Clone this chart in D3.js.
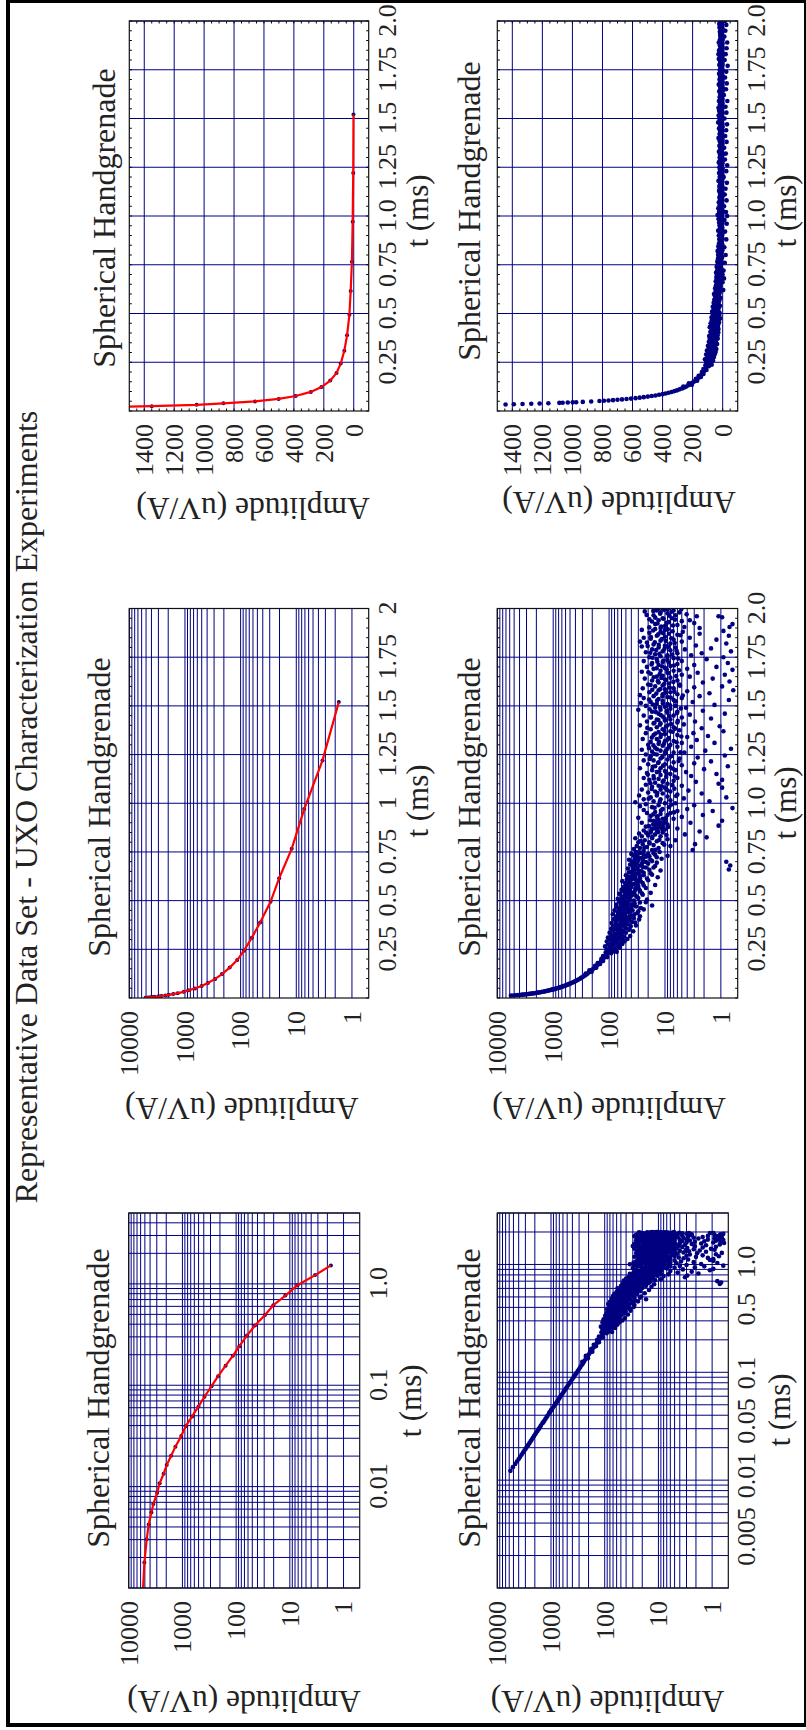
<!DOCTYPE html>
<html>
<head>
<meta charset="utf-8">
<script src="https://cdnjs.cloudflare.com/ajax/libs/d3/7.8.5/d3.min.js"></script>
<style>
  html, body { margin: 0; padding: 0; background: #fff; }
  svg { display: block; }
  text { font-family: "Liberation Serif", serif; fill: #222; }
</style>
</head>
<body>
<svg id="chart" width="806" height="1730"></svg>
<script>
const figureTitle = 'Representative Data Set - UXO Characterization Experiments';
const panelTitle = 'Spherical Handgrenade';
const xLabel = 't (ms)';
const yLabel = 'Amplitude (uV/A)';

const linearAmpTicks = [0, 200, 400, 600, 800, 1000, 1200, 1400];
const logAmpTicks = [1, 10, 100, 1000, 10000];
const linearTimeTicks = [0.25, 0.5, 0.75, 1, 1.25, 1.5, 1.75, 2];
const linearTimeLabels = ['0.25', '0.5', '0.75', '1.0', '1.25', '1.5', '1.75', '2.0'];
const semilogRedLabels = ['0.25', '0.5', '0.75', '1', '1.25', '1.5', '1.75', '2'];
const logTimeRedTicks = [0.01, 0.1, 1];
const logTimeRedLabels = ['0.01', '0.1', '1.0'];
// these labels sit where the original put them to keep them apart, not on their gridlines
const logTimeBlueTicks = [0.00297, 0.0109, 0.0349, 0.0977, 0.38, 1.04];
const logTimeBlueLabels = ['0.005', '0.01', '0.05', '0.1', '0.5', '1.0'];

// averaged decay
const redTimes = [0.00178, 0.00302, 0.00424, 0.00554, 0.00673, 0.00865, 0.0108, 0.0134, 0.0163, 0.0202, 0.0248, 0.0316, 0.0393, 0.0492, 0.0618, 0.077, 0.098, 0.123, 0.156, 0.195, 0.243, 0.309, 0.388, 0.494, 0.615, 0.766, 0.97, 1.22, 1.52];
const redAmps = [5110, 4620, 4240, 3780, 3480, 2960, 2650, 2240, 1960, 1620, 1350, 1050, 871, 660, 502, 388, 287, 216, 157, 115, 87, 62.9, 44.6, 29, 20.3, 12.1, 7.2, 3.38, 1.72];
const redLineStart = [0.001, 5400];

// raw single-shot decay before the noise sets in
const blueDecay = [[.0122,5700],[.0132,5130],[.0141,4650],[.0149,4300],[.0157,4000],[.0164,3770],[.0172,3530],[.018,3320],[.0188,3130],[.0196,2960],[.0204,2800],[.0212,2660],[.022,2530],[.0229,2400],[.0238,2280],[.0247,2170],[.0256,2070],[.0266,1970],[.0276,1880],[.0286,1790],[.0297,1700],[.0308,1625],[.032,1545],[.0337,1445],[.0345,1390],[.0356,1332],[.0369,1274],[.0382,1218],[.0396,1160],[.0417,1087],[.0424,1065],[.0433,1031],[.0444,998],[.0452,975],[.0467,931],[.0488,875],[.051,820],[.0525,790],[.0541,760],[.0557,730],[.0576,700],[.0595,670],[.0615,640],[.0637,610],[.066,580],[.0685,552],[.071,525],[.0738,498],[.0767,472],[.0798,447],[.0831,423],[.0865,400],[.09,380],[.0938,360],[.0977,340],[.102,321],[.106,304],[.111,287],[.116,270],[.121,255],[.126,242],[.132,228],[.138,215],[.144,203],[.15,192],[.157,180],[.164,170],[.171,160],[.179,150],[.187,141],[.195,133],[.204,125],[.213,117],[.222,111],[.232,104],[.125,262],[.135,205],[.142,225],[.155,170],[.165,178],[.175,145],[.18,160],[.19,128],[.2,138],[.21,108],[.215,128]];

// noisy tail, t from 0.22 up to 0.75
const blueEarlyNoise = [[.23,92],[.235,115],[.24,84],[.242,102],[.25,88],[.25,110],[.255,76],[.26,97],[.262,70],[.265,118],[.27,84],[.272,66],[.275,104],[.28,75],[.28,92],[.285,62],[.29,110],[.29,82],[.295,70],[.3,96],[.3,58],[.305,78],[.308,66],[.31,105],[.315,88],[.315,54],[.32,72],[.325,92],[.325,60],[.33,78],[.335,50],[.335,98],[.34,66],[.345,84],[.345,56],[.35,72],[.35,44],[.355,92],[.36,62],[.36,78],[.365,52],[.37,86],[.37,68],[.372,33],[.375,58],[.38,74],[.38,46],[.385,90],[.385,62],[.39,52],[.39,39],[.395,76],[.4,64],[.4,44],[.405,82],[.405,55],[.41,36],[.41,68],[.415,48],[.42,74],[.42,58],[.42,28],[.425,42],[.43,86],[.43,62],[.43,35],[.435,52],[.44,70],[.44,46],[.445,30],[.45,80],[.45,56],[.45,38],[.455,24],[.46,64],[.46,44],[.465,72],[.47,50],[.47,33],[.475,60],[.475,17],[.48,40],[.48,74],[.485,54],[.49,28],[.49,46],[.495,66],[.5,36],[.5,56],[.505,21],[.51,44],[.51,70],[.515,52],[.52,32],[.52,60],[.525,40],[.53,25],[.53,48],[.535,66],[.54,36],[.54,18],[.545,54],[.55,42],[.55,28],[.555,60],[.56,34],[.56,48],[.565,22],[.57,40],[.57,56],[.575,30],[.58,46],[.58,15],[.585,36],[.59,52],[.59,25],[.595,42],[.6,32],[.6,58],[.605,20],[.61,38],[.61,48],[.615,28],[.62,42],[.62,13.5],[.625,34],[.63,50],[.63,24],[.635,38],[.64,30],[.64,18],[.645,44],[.65,26],[.65,36],[.655,12],[.66,33],[.66,.72],[.665,46],[.67,22],[.67,16],[.675,38],[.68,28],[.68,.68],[.685,42],[.69,20],[.69,33],[.695,14],[.7,25],[.7,38],[.7,.8],[.705,30],[.71,18],[.71,44],[.715,11.5],[.72,26],[.72,35],[.725,22],[.73,9],[.73,31],[.735,15],[.74,40],[.74,20],[.745,27],[.75,12.5],[.75,33]];

// the thick part of the early cloud, read between the points above
const blueEarlyCore = [[.237,73],[.248,98],[.258,64],[.269,91],[.277,58],[.283,81],[.291,53],[.298,87],[.303,47],[.311,72],[.318,42],[.323,63],[.331,69],[.338,57],[.343,37],[.352,64],[.357,48],[.363,71],[.368,41],[.376,66],[.383,54],[.388,34],[.393,61],[.398,49],[.403,29],[.408,71],[.413,43],[.417,63],[.423,37],[.428,52],[.433,68],[.437,31],[.442,58],[.447,41],[.452,66],[.457,48],[.462,27],[.468,55],[.472,39],[.478,47],[.483,61],[.487,35],[.492,22],[.497,51],[.503,43],[.507,59],[.513,30],[.518,46],[.523,54],[.527,34],[.533,41],[.538,26],[.543,47],[.548,35],[.553,52],[.558,29],[.563,43],[.568,33],[.573,49],[.578,24],[.583,39],[.588,31],[.593,47],[.598,27],[.603,42],[.608,33],[.613,21],[.618,36],[.623,46],[.628,28],[.633,17],[.638,34],[.643,24],[.648,40],[.653,29],[.658,19],[.663,37],[.668,31],[.673,25],[.678,15],[.683,34],[.688,26],[.693,39],[.698,22],[.703,17],[.708,35],[.713,25],[.718,30],[.723,14],[.728,19],[.733,36],[.738,24],[.743,16],[.748,29]];

// noisy tail, t from 0.75 up to 2
const blueLateNoise = [[.755,24],[.76,17],[.76,3.2],[.765,36],[.77,13],[.77,28],[.775,21],[.78,8],[.78,32],[.785,16],[.79,2.9],[.79,25],[.795,11],[.8,19],[.8,30],[.805,14],[.81,6.5],[.81,23],[.815,9],[.82,34],[.82,17],[.825,1.8],[.83,26],[.83,12],[.835,20],[.84,15],[.84,4.4],[.845,29],[.85,11],[.85,18],[.855,2.4],[.86,24],[.86,14],[.865,10],[.87,17],[.87,6],[.875,13],[.88,22],[.88,11],[.885,1.1],[.89,15],[.89,9],[.895,13],[.9,26],[.9,12],[.9,3.5],[.905,10],[.91,16],[.91,.95],[.915,13],[.92,7],[.92,11],[.925,30],[.93,14],[.93,5],[.935,18],[.94,9],[.94,2.1],[.945,12],[.95,21],[.95,8],[.955,15],[.96,1.4],[.96,6],[.965,24],[.97,11],[.97,4],[.975,.62],[.98,17],[.98,8.5],[.985,28],[.99,13],[.99,3],[.995,22],[1,10],[1,6.5],[1.005,34],[1.01,16],[1.01,1.6],[1.015,8],[1.02,24],[1.02,12],[1.025,4.6],[1.03,18],[1.03,.8],[1.035,9],[1.04,29],[1.04,14],[1.045,6],[1.05,11],[1.05,2.2],[1.055,20],[1.06,8],[1.06,15],[1.065,3.8],[1.07,26],[1.07,12],[1.075,6.8],[1.08,10],[1.08,.95],[1.085,17],[1.09,5],[1.09,13],[1.095,22],[1.1,9],[1.1,1.1],[1.105,15],[1.11,11],[1.11,2.8],[1.115,7],[1.12,19],[1.12,.95],[1.125,13],[1.13,24],[1.13,6],[1.135,9.5],[1.14,3.4],[1.14,16],[1.145,12],[1.15,8],[1.15,1.2],[1.155,21],[1.16,14],[1.16,4.2],[1.165,10],[1.17,6.5],[1.17,17],[1.175,2],[1.18,28],[1.18,12],[1.185,8],[1.19,15],[1.19,.75],[1.195,5],[1.2,20],[1.2,10],[1.205,3],[1.21,13],[1.21,7],[1.215,1.5],[1.22,24],[1.22,16],[1.225,9],[1.23,5.5],[1.23,12],[1.235,2.6],[1.24,18],[1.24,8],[1.245,.85],[1.25,14],[1.25,22],[1.255,10],[1.26,4.5],[1.26,7],[1.265,17],[1.27,12],[1.27,1.9],[1.275,26],[1.28,9],[1.28,.66],[1.285,15],[1.29,6],[1.29,3.4],[1.295,11],[1.3,20],[1.3,8],[1.305,13],[1.31,5],[1.31,1.3],[1.315,18],[1.32,10],[1.32,7],[1.325,2.7],[1.33,25],[1.33,14],[1.335,8.5],[1.34,4],[1.34,12],[1.345,1.7],[1.35,16],[1.35,6],[1.355,10],[1.36,22],[1.36,3.1],[1.365,13],[1.37,8],[1.37,.9],[1.375,5.5],[1.38,18],[1.38,11],[1.385,2.2],[1.39,14],[1.39,7],[1.395,1.05],[1.4,28],[1.4,9],[1.405,4.6],[1.41,16],[1.41,12],[1.415,6],[1.42,21],[1.42,2.9],[1.425,10],[1.43,8],[1.43,14],[1.435,1.5],[1.44,5],[1.44,18],[1.445,11],[1.45,24],[1.45,7],[1.455,3.6],[1.46,13],[1.46,.85],[1.465,9],[1.47,17],[1.47,6],[1.475,2.1],[1.48,12],[1.48,30],[1.485,8],[1.49,15],[1.49,4.2],[1.495,10],[1.5,22],[1.5,6.5],[1.505,1.3],[1.51,14],[1.51,9],[1.515,27],[1.52,3.2],[1.52,18],[1.525,11],[1.53,7],[1.53,.72],[1.535,13],[1.54,5],[1.54,24],[1.545,9],[1.55,16],[1.55,2.4],[1.555,28],[1.56,11],[1.56,6],[1.565,1.6],[1.57,19],[1.57,8],[1.575,4],[1.58,13],[1.58,.6],[1.585,10],[1.59,25],[1.59,7],[1.595,3],[1.6,15],[1.6,.95],[1.605,11],[1.61,5.5],[1.61,20],[1.615,8.5],[1.62,2.1],[1.62,13],[1.625,.7],[1.63,17],[1.63,6],[1.635,10],[1.64,1.4],[1.64,23],[1.645,8],[1.65,14],[1.65,3.6],[1.655,11],[1.66,.85],[1.66,5],[1.665,18],[1.67,9],[1.67,2.6],[1.675,26],[1.68,12],[1.68,7],[1.685,.62],[1.69,16],[1.69,4],[1.695,10],[1.7,21],[1.7,1.2],[1.705,8],[1.71,13],[1.71,3],[1.715,6],[1.72,17],[1.72,.75],[1.725,11],[1.73,24],[1.73,5],[1.735,9],[1.74,1.8],[1.74,14],[1.745,7],[1.75,19],[1.75,.9],[1.755,12],[1.76,3.4],[1.76,9],[1.765,15],[1.77,2.2],[1.77,6],[1.775,22],[1.78,.66],[1.78,11],[1.785,8],[1.79,17],[1.79,4.4],[1.795,1.5],[1.8,13],[1.8,6.5],[1.805,26],[1.81,10],[1.81,2.8],[1.815,16],[1.82,.8],[1.82,8],[1.825,21],[1.83,28],[1.83,5],[1.835,12],[1.84,1.2],[1.84,7],[1.845,18],[1.85,24],[1.85,3.6],[1.855,10],[1.86,.72],[1.86,14],[1.865,6],[1.87,8.5],[1.87,2.4],[1.875,19],[1.88,12],[1.88,4.8],[1.885,.9],[1.89,26],[1.89,10],[1.895,15],[1.9,2.4],[1.9,12],[1.905,.7],[1.905,4.5],[1.91,10],[1.915,6],[1.92,.62],[1.92,15],[1.925,3],[1.93,8.5],[1.935,5],[1.94,3.6],[1.94,13],[1.945,19],[1.95,7.5],[1.95,11],[1.955,.95],[1.96,1.1],[1.96,2.7],[1.965,16],[1.965,6.5],[1.97,4.1],[1.975,9],[1.98,12],[1.98,5.5],[1.985,23],[1.99,14],[1.99,7],[1.995,9],[2,13],[2,11]];

// the dense middle of the late cloud
const blueLateCore = [[.761,14.7],[.772,23.4],[.787,10.3],[.793,18.9],[.806,27.2],[.812,12.6],[.828,16.8],[.837,9.4],[.848,21.7],[.853,13.2],[.862,17.6],[.868,11.3],[.873,15.1],[.878,8.8],[.883,19.4],[.887,12.9],[.892,16.3],[.897,10.7],[.907,14.2],[.913,18.4],[.923,9.7],[.933,13.6],[.943,16.2],[.953,6.9],[.963,11.8],[.977,15.3],[.993,7.7],[1.007,12.4],[1.023,19.6],[1.037,6.3],[1.052,13.7],[1.067,9.1],[1.073,17.3],[1.087,11.4],[1.093,7.4],[1.103,18.2],[1.117,10.6],[1.127,15.8],[1.137,6.7],[1.147,20.3],[1.153,9.3],[1.163,12.7],[1.177,7.2],[1.187,16.6],[1.193,10.8],[1.207,13.3],[1.217,5.7],[1.227,18.7],[1.237,11.2],[1.243,7.6],[1.253,15.7],[1.262,5.3],[1.267,9.8],[1.277,13.9],[1.283,19.3],[1.292,8.4],[1.297,16.1],[1.307,10.4],[1.313,6.2],[1.317,12.8],[1.328,8.9],[1.337,17.2],[1.343,5.1],[1.352,11.7],[1.358,14.8],[1.367,7.3],[1.372,10.2],[1.383,6.6],[1.387,20.7],[1.393,9.6],[1.403,12.3],[1.407,7.8],[1.413,15.4],[1.423,5.9],[1.427,13.1],[1.433,10.1],[1.442,17.8],[1.447,8.3],[1.453,11.9],[1.463,6.1],[1.468,14.6],[1.473,9.2],[1.483,18.8],[1.487,5.2],[1.493,12.2],[1.503,8.1],[1.507,16.4],[1.513,10.9],[1.523,6.4],[1.527,13.8],[1.533,19.2],[1.543,7.9],[1.548,11.1],[1.553,4.8],[1.563,14.3],[1.567,9.9],[1.573,6.8],[1.583,16.9],[1.587,12.1],[1.593,8.2],[1.603,5.4],[1.607,18.1],[1.613,10.3],[1.623,7.1],[1.627,13.4],[1.633,9.5],[1.643,11.6],[1.647,15.9],[1.653,6.3],[1.663,12.4],[1.668,8.7],[1.673,19.8],[1.683,5.6],[1.687,9.3],[1.693,14.1],[1.703,11.3],[1.707,6.9],[1.713,17.4],[1.723,8.6],[1.727,13.7],[1.733,10.7],[1.743,5.8],[1.747,16.7],[1.753,9.1],[1.763,7.4],[1.767,12.6],[1.773,18.3],[1.783,6.2],[1.787,14.4],[1.793,10.2],[1.803,8.8],[1.807,20.4],[1.813,12.9],[1.823,6.7],[1.827,15.2],[1.833,9.7],[1.843,11.4],[1.847,7.7],[1.853,17.9],[1.863,5.3],[1.867,13.2],[1.873,10.8],[1.883,7.3],[1.887,16.3],[1.893,8.9],[1.903,19.1],[1.907,11.7],[1.913,7.2],[1.923,13.6],[1.927,9.4],[1.933,17.1],[1.943,6.6],[1.947,10.6],[1.953,14.9],[1.963,8.3],[1.967,21.3],[1.973,12.2],[1.983,7.6],[1.987,16.2],[1.993,10.4],[1.997,5.1]];

// below zero only the linear panel can show these
const blueNegative = [[.62,-4],[.68,-9],[.72,-6],[.76,-14],[.8,-20],[.84,-11],[.88,-24],[.92,-16],[.96,-27],[.98,-12],[1,-30],[1.02,-22],[1.05,-9],[1.08,-26],[1.11,-14],[1.14,-19],[1.17,-28],[1.2,-7],[1.23,-24],[1.26,-30],[1.29,-15],[1.32,-21],[1.35,-10],[1.38,-26],[1.41,-17],[1.44,-23],[1.47,-29],[1.5,-12],[1.53,-25],[1.56,-19],[1.59,-31],[1.62,-8],[1.65,-22],[1.68,-27],[1.71,-16],[1.74,-24],[1.77,-33],[1.8,-13],[1.83,-20],[1.86,-26],[1.89,-30],[1.92,-11],[1.95,-18],[1.98,-24],[2,-15]];

const blueSamples = [...blueDecay, ...blueEarlyNoise, ...blueEarlyCore, ...blueLateNoise, ...blueLateCore, ...blueNegative];
const redSamples = redTimes.map((t, i) => [t, redAmps[i]]);
const redLine = [redLineStart, ...redSamples];

const navy = '#000080';
const red = '#ff0000';
const canvasHeight = 1730;

// plot boxes are given in logical, unrotated page coordinates
const panels = [
  { left: 1319, right: 1709, top: 129.3, bottom: 368.7, kind: 'linear', dots: redSamples, line: redLine, radius: 2, timeTicks: linearTimeTicks, timeLabels: linearTimeLabels, titleX: 1512, titleY: 115, xLabelX: 1519, xLabelY: 428, yLabelX: 253, yLabelY: 1232 },
  { left: 1319, right: 1709, top: 497.3, bottom: 737.7, kind: 'linear', dots: blueSamples, radius: 2.3, timeTicks: linearTimeTicks, timeLabels: linearTimeLabels, titleX: 1519, titleY: 480, xLabelX: 1519, xLabelY: 796, yLabelX: 619, yLabelY: 1238 },
  { left: 732, right: 1121.5, top: 129.3, bottom: 368.7, kind: 'semilog', dots: redSamples, line: redLine, radius: 2, timeTicks: linearTimeTicks, timeLabels: semilogRedLabels, titleX: 923, titleY: 110, xLabelX: 929, xLabelY: 428, yLabelX: 241.7, yLabelY: 632 },
  { left: 732, right: 1121.5, top: 497.3, bottom: 737.7, kind: 'semilog', dots: blueSamples, radius: 2.3, timeTicks: linearTimeTicks, timeLabels: linearTimeLabels, titleX: 923, titleY: 480, xLabelX: 927, xLabelY: 796, yLabelX: 609, yLabelY: 632 },
  { left: 142, right: 517, top: 128.7, bottom: 359.7, kind: 'loglog', timeMax: 5, dots: redSamples, line: redLine, radius: 2, timeTicks: logTimeRedTicks, timeLabels: logTimeRedLabels, titleX: 332, titleY: 109, xLabelX: 329, xLabelY: 421, yLabelX: 244, yLabelY: 39 },
  { left: 142, right: 517, top: 497.3, bottom: 728.3, kind: 'loglog', timeMax: 3, dots: blueSamples, radius: 2.3, timeTicks: logTimeBlueTicks, timeLabels: logTimeBlueLabels, titleX: 332, titleY: 480, xLabelX: 320, xLabelY: 790, yLabelX: 607.5, yLabelY: 39 },
];

// 1..9 per decade between two powers of ten
function logGrid(lo, hi) {
  const values = [];
  for (let d = lo; d < hi; d *= 10) {
    d3.range(1, 10).forEach(m => {
      const v = +(m * d).toPrecision(3);
      values.push(v);
    });
  }
  values.push(hi);
  return values;
}

const svg = d3.select('#chart');
const defs = svg.append('defs');
const page = svg.append('g')
  .attr('transform', `translate(0,${canvasHeight}) rotate(-90)`);

// Outer frame, mostly cut by the page edge on the top and right
svg.append('rect')
  .attr('x', 8)
  .attr('y', 1)
  .attr('width', 798)
  .attr('height', 1724)
  .attr('fill', 'none')
  .attr('stroke', '#000')
  .attr('stroke-width', 4);

page.append('text')
  .attr('x', 923)
  .attr('y', 37)
  .attr('text-anchor', 'middle')
  .attr('font-size', 32)
  .text(figureTitle);

panels.forEach((p, index) => {
  const width = p.right - p.left;
  const height = p.bottom - p.top;

  const xScale = p.kind === 'loglog'
    ? d3.scaleLog().domain([0.001, p.timeMax]).range([0, width])
    : d3.scaleLinear().domain([0, 2]).range([0, width]);
  const yScale = p.kind === 'linear'
    ? d3.scaleLinear().domain([-100, 1500]).range([height, 0])
    : d3.scaleLog().domain([0.5, 10000]).range([height, 0]);

  const xGrid = p.kind === 'loglog'
    ? logGrid(0.001, 1).concat([2, 3, 4, 5]).filter(v => v <= p.timeMax)
    : linearTimeTicks;
  const yGrid = p.kind === 'linear' ? linearAmpTicks : logGrid(1, 10000);

  const g = page.append('g')
    .attr('class', `panel-${index}`)
    .attr('transform', `translate(${p.left},${p.top})`);

  defs.append('clipPath')
    .attr('id', `plot-clip-${index}`)
    .append('rect')
    .attr('width', width)
    .attr('height', height);

  const grid = g.append('g').attr('stroke', navy).attr('stroke-width', 1);
  grid.selectAll('line.vertical')
    .data(xGrid)
    .join('line')
    .attr('class', 'vertical')
    .attr('x1', d => xScale(d))
    .attr('x2', d => xScale(d))
    .attr('y1', 0)
    .attr('y2', height);
  grid.selectAll('line.horizontal')
    .data(yGrid)
    .join('line')
    .attr('class', 'horizontal')
    .attr('x1', 0)
    .attr('x2', width)
    .attr('y1', d => yScale(d))
    .attr('y2', d => yScale(d));

  // Small inward ticks on all four sides of the box
  if (p.kind !== 'loglog') {
    const minorTime = d3.range(0, 2.001, 0.05);
    g.append('g').selectAll('line')
      .data(minorTime.flatMap(v => [[v, 0], [v, height]]))
      .join('line')
      .attr('x1', d => xScale(d[0]))
      .attr('x2', d => xScale(d[0]))
      .attr('y1', d => d[1])
      .attr('y2', d => d[1] === 0 ? 2.5 : height - 2.5)
      .attr('stroke', '#000');
  }
  if (p.kind === 'linear') {
    const minorAmp = d3.range(-50, 1500, 50);
    g.append('g').selectAll('line')
      .data(minorAmp.flatMap(v => [[v, 0], [v, width]]))
      .join('line')
      .attr('y1', d => yScale(d[0]))
      .attr('y2', d => yScale(d[0]))
      .attr('x1', d => d[1])
      .attr('x2', d => d[1] === 0 ? 2.5 : width - 2.5)
      .attr('stroke', '#000');
  }

  const marks = g.append('g').attr('clip-path', `url(#plot-clip-${index})`);
  const visible = p.kind === 'linear' ? p.dots : p.dots.filter(d => d[1] > 0);
  marks.selectAll('circle')
    .data(visible)
    .join('circle')
    .attr('cx', d => xScale(d[0]))
    .attr('cy', d => yScale(d[1]))
    .attr('r', p.radius)
    .attr('fill', navy);

  if (p.line) {
    const lineGenerator = d3.line()
      .x(d => xScale(d[0]))
      .y(d => yScale(d[1]));
    marks.append('path')
      .attr('d', lineGenerator(p.line))
      .attr('fill', 'none')
      .attr('stroke', red)
      .attr('stroke-width', 2.2);
  }

  g.append('rect')
    .attr('width', width)
    .attr('height', height)
    .attr('fill', 'none')
    .attr('stroke', '#111')
    .attr('stroke-width', 1.2);

  const xAxis = d3.axisBottom(xScale)
    .tickValues(p.timeTicks)
    .tickFormat((d, i) => p.timeLabels[i])
    .tickSize(0)
    .tickPadding(8.5);
  const yAxis = d3.axisLeft(yScale)
    .tickValues(p.kind === 'linear' ? linearAmpTicks : logAmpTicks)
    .tickFormat(d => String(d))
    .tickSize(0)
    .tickPadding(13);

  [g.append('g').attr('transform', `translate(0,${height})`).call(xAxis), g.append('g').call(yAxis)].forEach(axis => {
    axis.select('.domain').remove();
    axis.selectAll('text')
      .attr('font-size', 26)
      .attr('font-family', '"Liberation Serif", serif')
      .attr('fill', '#222');
  });

  page.append('text')
    .attr('x', p.titleX)
    .attr('y', p.titleY)
    .attr('text-anchor', 'middle')
    .attr('font-size', 32)
    .text(panelTitle);

  page.append('text')
    .attr('x', p.xLabelX)
    .attr('y', p.xLabelY)
    .attr('text-anchor', 'middle')
    .attr('font-size', 31)
    .text(xLabel);

  page.append('text')
    .attr('transform', `translate(${p.yLabelY},${p.yLabelX}) rotate(-90)`)
    .attr('text-anchor', 'middle')
    .attr('font-size', 31.5)
    .text(yLabel);
});
</script>
</body>
</html>
